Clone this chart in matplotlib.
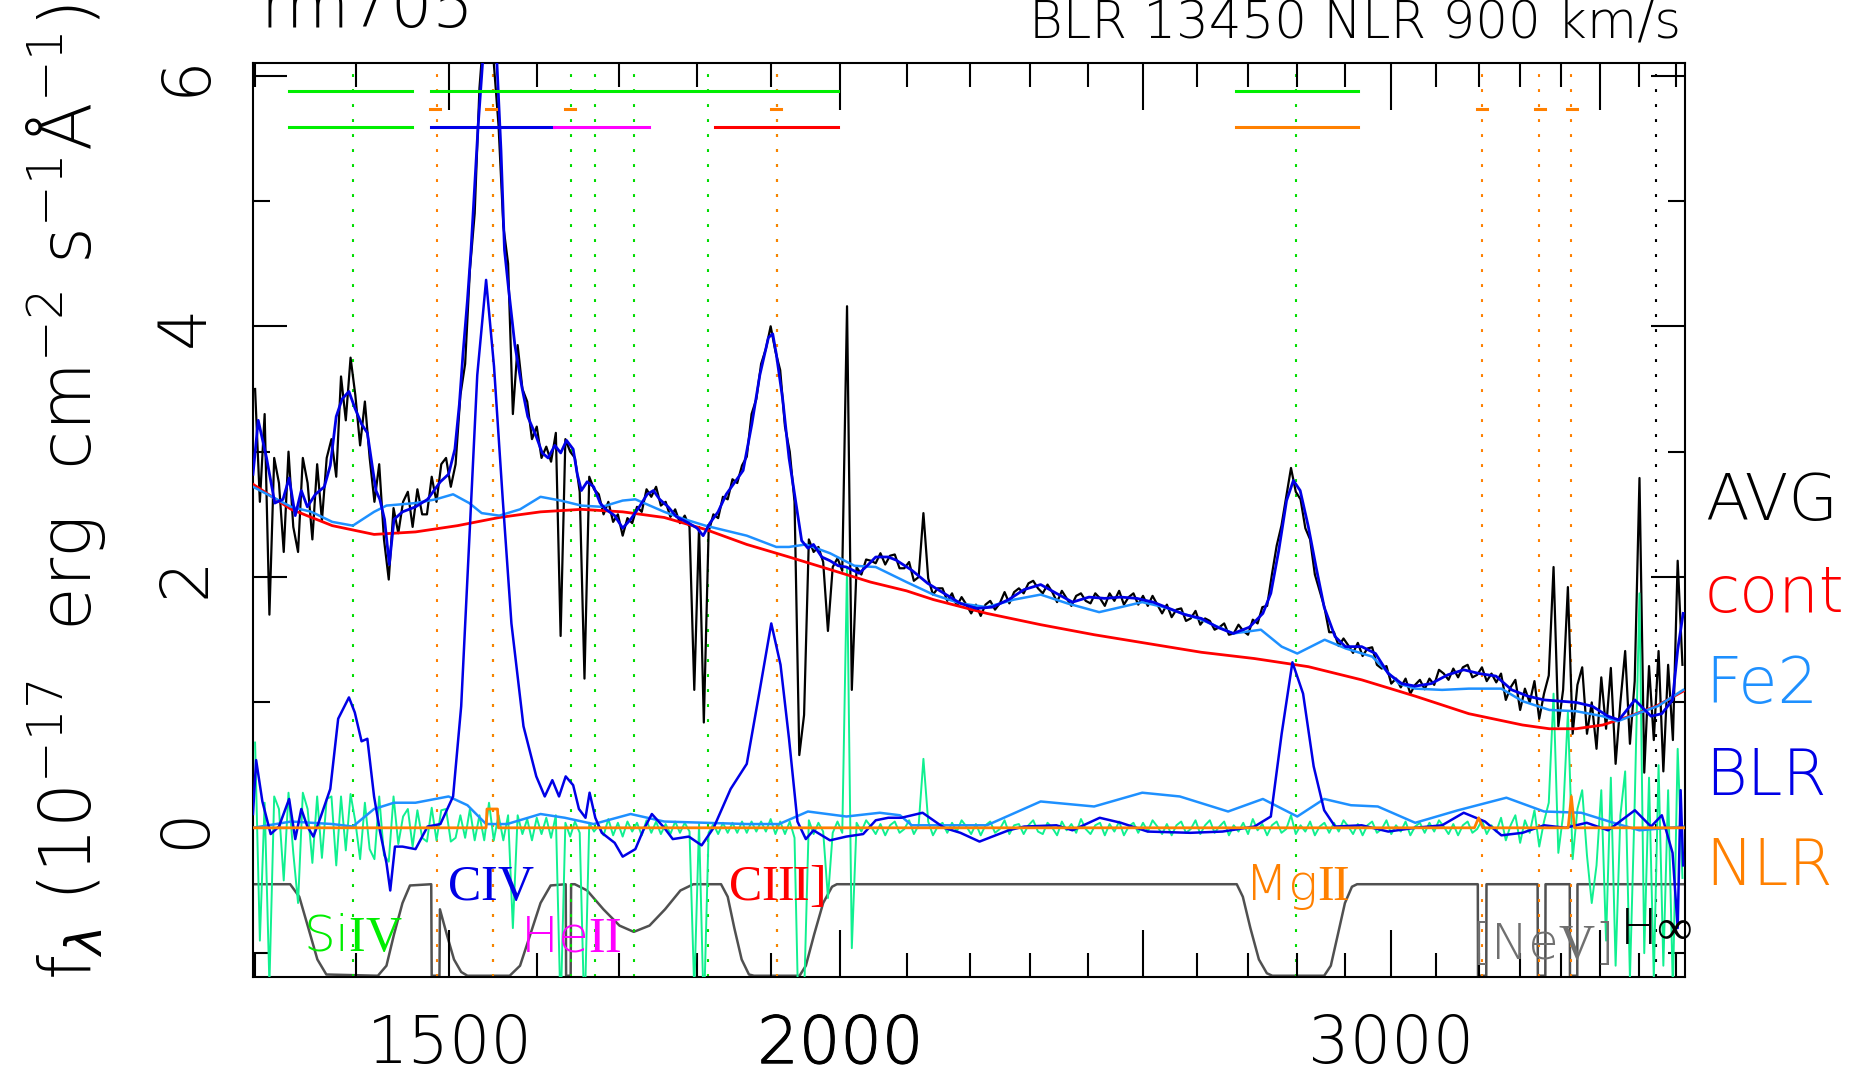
import numpy as np
import matplotlib
matplotlib.use("Agg")
from matplotlib import pyplot
from matplotlib import patheffects
from matplotlib.ticker import FixedLocator, FixedFormatter, NullFormatter

# ---- observed spectrum (AVG), one value per pixel of a log-lambda grid 1300..3718 A
spec_flux = [
    3.5, 2.6, 3.3, 1.7, 2.95, 2.75, 2.2, 3.0, 2.4, 2.2,
    2.95, 2.75, 2.3, 2.9, 2.45, 2.95, 3.1, 2.8, 3.6, 3.25,
    3.75, 3.45, 3.05, 3.4, 2.95, 2.6, 2.9, 2.3, 1.98, 2.55,
    2.35, 2.6, 2.68, 2.4, 2.7, 2.5, 2.5, 2.8, 2.6, 2.9,
    2.95, 2.72, 2.9, 3.45, 3.7, 4.45, 4.9, 5.9, 6.4, 6.8,
    6.1, 5.6, 4.8, 4.5, 3.3, 3.85, 3.5, 3.4, 3.1, 3.2,
    2.95, 3.04, 2.92, 3.15, 1.53, 3.1, 3.0, 2.95, 2.68, 1.19,
    2.8, 2.7, 2.66, 2.5, 2.6, 2.44, 2.5, 2.33, 2.47, 2.43,
    2.56, 2.52, 2.7, 2.64, 2.72, 2.57, 2.6, 2.48, 2.54, 2.43,
    2.49, 2.4, 1.1, 2.4, 0.84, 2.36, 2.5, 2.47, 2.64, 2.62,
    2.78, 2.75, 2.89, 2.96, 3.3, 3.42, 3.7, 3.82, 4.0, 3.8,
    3.65, 3.2, 3.0, 2.6, 0.58, 0.9, 2.3, 2.2, 2.24, 2.12,
    1.57, 2.08, 2.15, 2.05, 4.16, 1.1, 2.08, 2.02, 2.14, 2.13,
    2.11, 2.19, 2.10, 2.17, 2.18, 2.07, 2.07, 2.12, 1.97, 2.0,
    2.51, 1.99, 1.86, 1.91, 1.91, 1.81, 1.87, 1.77, 1.84, 1.78,
    1.71, 1.78, 1.69, 1.78, 1.81, 1.74, 1.79, 1.88, 1.79, 1.88,
    1.91, 1.87, 1.95, 1.97, 1.91, 1.87, 1.94, 1.88, 1.80, 1.89,
    1.83, 1.77, 1.85, 1.87, 1.81, 1.79, 1.87, 1.83, 1.77, 1.87,
    1.81, 1.89, 1.78, 1.84, 1.87, 1.78, 1.85, 1.77, 1.85, 1.78,
    1.71, 1.78, 1.68, 1.74, 1.75, 1.65, 1.67, 1.73, 1.62, 1.67,
    1.65, 1.58, 1.60, 1.63, 1.54, 1.55, 1.62, 1.57, 1.54, 1.66,
    1.63, 1.76, 1.77, 2.02, 2.25, 2.41, 2.64, 2.87, 2.68, 2.62,
    2.39, 2.3, 2.02, 1.89, 1.76, 1.56, 1.56, 1.45, 1.51, 1.455,
    1.395, 1.475, 1.37, 1.43, 1.44, 1.30, 1.27, 1.29, 1.15, 1.19,
    1.12, 1.19, 1.07, 1.14, 1.18, 1.105, 1.19, 1.14, 1.26, 1.23,
    1.18, 1.27, 1.20, 1.28, 1.30, 1.20, 1.22, 1.28, 1.17, 1.23,
    1.16, 1.23, 1.02, 1.12, 1.18, 0.94, 1.11, 1.0, 1.17, 0.87,
    1.07, 1.215, 2.08, 0.81, 1.1, 1.92, 0.75, 1.14, 1.28, 0.75,
    1.0, 0.63, 1.2, 0.79, 1.275, 0.51, 1.0, 1.41, 0.67, 1.17,
    2.79, 0.44, 1.29, 0.7, 1.41, 0.45, 1.3, 0.7, 2.13, 1.3,
]

# ---- fit residuals on the same pixel grid
resid_flux = [
    0.68, -0.9, 0.2, -1.25, 0.25, 0.15, -0.42, 0.28, -0.2, -0.6,
    0.28, 0.15, -0.28, 0.25, -0.24, 0.23, 0.25, -0.3, 0.25, -0.18,
    0.27, 0.05, -0.25, 0.2, -0.17, -0.25, 0.25, -0.22, -0.27, 0.25,
    -0.13, 0.09, 0.15, -0.15, 0.14, -0.08, -0.11, 0.16, -0.1, 0.14,
    0.15, -0.11, -0.08, 0.1, -0.08, 0.15, -0.1, 0.1, -0.1, 0.2,
    -0.1, 0.1, -0.1, 0.1, -0.8, 0.1, -0.05, 0.07, -0.1, 0.08,
    -0.05, 0.08, -0.08, 0.1, -1.47, 0.04, -0.07, 0.05, -0.04, -1.53,
    0.04, -0.03, 0.02, -0.06, 0.07, -0.06, 0.04, -0.07, 0.05, -0.03,
    0.04, -0.06, 0.06, -0.04, 0.05, -0.05, 0.03, -0.05, 0.05, -0.04,
    0.04, -0.03, -1.3, 0.03, -1.5, -0.04, 0.03, -0.05, 0.04, -0.04,
    0.04, -0.04, 0.05, -0.04, 0.05, -0.03, 0.05, -0.03, 0.07, -0.05,
    0.05, -0.05, 0.05, -0.08, -1.82, -1.35, 0.06, -0.05, 0.04, -0.03,
    -0.56, -0.04, 0.05, -0.04, 2.08, -0.96, 0.04, -0.03, 0.06, 0.01,
    -0.05, 0.03, -0.06, 0.02, 0.05, -0.04, -0.01, 0.06, -0.05, 0.02,
    0.55, 0.05, -0.06, 0.01, 0.04, -0.04, 0.04, -0.03, 0.06, 0.01,
    -0.05, 0.03, -0.06, 0.02, 0.05, -0.04, -0.01, 0.06, -0.05, 0.02,
    0.03, -0.05, 0.02, 0.06, -0.03, -0.05, 0.04, 0.0, -0.06, 0.05,
    -0.02, 0.03, -0.04, 0.07, -0.01, -0.05, 0.02, 0.04, -0.06, 0.03,
    -0.03, 0.05, -0.06, 0.01, 0.04, -0.04, 0.04, -0.03, 0.06, 0.01,
    -0.05, 0.03, -0.06, 0.02, 0.05, -0.04, -0.01, 0.06, -0.05, 0.02,
    0.06, -0.04, 0.01, 0.05, -0.06, 0.02, -0.03, 0.04, -0.05, 0.07,
    -0.02, 0.03, -0.06, 0.02, 0.05, -0.04, -0.01, 0.1, -0.05, 0.02,
    -0.03, 0.05, -0.06, 0.01, 0.04, -0.04, 0.04, -0.03, 0.06, 0.01,
    -0.05, 0.03, -0.06, 0.02, 0.05, -0.04, -0.01, 0.06, -0.05, 0.02,
    -0.03, 0.05, -0.06, 0.01, 0.04, -0.04, 0.04, -0.03, 0.06, 0.01,
    -0.05, 0.03, -0.06, 0.02, 0.05, -0.04, -0.01, 0.06, -0.05, 0.02,
    -0.03, 0.08, -0.1, 0.02, 0.1, -0.12, 0.06, -0.04, 0.14, -0.15,
    0.05, 0.2, 1.07, -0.2, 0.1, 0.92, -0.25, 0.15, 0.3, -0.22,
    -0.6, -0.3, 0.3, -0.9, 0.4, -1.1, 0.1, 0.45, -1.2, 0.2,
    1.87, -1.0, 0.4, -1.2, 0.5, -1.1, 0.3, -1.3, 0.63, -0.4,
]

# ---- total model
model_wave = [
    1298, 1303, 1311, 1319, 1327, 1333, 1339, 1345, 1351, 1359,
    1368, 1374, 1380, 1386, 1393, 1399, 1406, 1412, 1417, 1421,
    1425, 1430, 1435, 1440, 1449, 1463, 1476, 1490, 1499, 1506,
    1511, 1515, 1520, 1524, 1532, 1540, 1546, 1552, 1558, 1562,
    1567, 1574, 1582, 1589, 1599, 1606, 1613, 1621, 1628, 1635,
    1643, 1648, 1653, 1660, 1668, 1676, 1683, 1694, 1704, 1714,
    1725, 1735, 1743, 1751, 1762, 1773, 1789, 1800, 1808, 1817,
    1828, 1839, 1851, 1862, 1874, 1885, 1897, 1903, 1908, 1917,
    1926, 1935, 1944, 1953, 1961, 1973, 1985, 1997, 2009, 2028,
    2040, 2053, 2072, 2084, 2108, 2133, 2159, 2185, 2211, 2237,
    2264, 2290, 2318, 2345, 2373, 2402, 2430, 2459, 2488, 2518,
    2548, 2578, 2609, 2640, 2671, 2703, 2730, 2746, 2762, 2778,
    2792, 2806, 2823, 2839, 2856, 2879, 2901, 2936, 2966, 2994,
    3024, 3054, 3090, 3128, 3165, 3202, 3241, 3279, 3318, 3358,
    3397, 3438, 3479, 3520, 3548, 3590, 3633, 3662, 3691, 3705,
    3720,
]
model_flux = [
    2.82, 3.25, 2.95, 2.59, 2.62, 2.79, 2.49, 2.69, 2.56, 2.66,
    2.72, 2.89, 3.28, 3.42, 3.48, 3.35, 3.22, 3.15, 2.89, 2.69,
    2.62, 2.46, 2.10, 2.46, 2.52, 2.56, 2.62, 2.76, 2.82, 3.02,
    3.38, 3.78, 4.21, 4.61, 5.60, 6.40, 6.60, 6.30, 5.40, 4.61,
    4.28, 3.85, 3.52, 3.28, 3.12, 2.99, 2.95, 3.05, 2.99, 3.09,
    3.02, 2.82, 2.69, 2.76, 2.72, 2.59, 2.54, 2.49, 2.39, 2.46,
    2.56, 2.66, 2.69, 2.62, 2.56, 2.48, 2.43, 2.39, 2.33, 2.43,
    2.52, 2.66, 2.76, 2.85, 3.22, 3.61, 3.91, 3.94, 3.78, 3.42,
    2.95, 2.62, 2.29, 2.23, 2.26, 2.16, 2.13, 2.09, 2.08, 2.03,
    2.09, 2.16, 2.16, 2.135, 2.055, 1.95, 1.87, 1.79, 1.75, 1.76,
    1.82, 1.90, 1.94, 1.87, 1.80, 1.84, 1.83, 1.84, 1.83, 1.80,
    1.75, 1.70, 1.67, 1.60, 1.55, 1.60, 1.71, 1.87, 2.21, 2.61,
    2.77, 2.69, 2.40, 2.08, 1.76, 1.525, 1.445, 1.445, 1.39, 1.23,
    1.15, 1.13, 1.15, 1.22, 1.26, 1.23, 1.21, 1.10, 1.05, 1.02,
    1.01, 1.00, 0.97, 0.89, 0.86, 1.02, 0.89, 0.91, 1.02, 1.42,
    1.71,
]

# ---- continuum
cont_wave = [1298, 1335, 1376, 1419, 1463, 1509, 1556, 1604, 1653, 1704,
             1757, 1811, 1867, 1926, 1985, 2045, 2100, 2142, 2228, 2318,
             2411, 2508, 2609, 2713, 2823, 2936, 3054, 3177, 3305, 3371,
             3438, 3506, 3576, 3647, 3720]
cont_flux = [2.74, 2.54, 2.41, 2.34, 2.36, 2.41, 2.475, 2.52, 2.54, 2.52,
             2.475, 2.38, 2.26, 2.16, 2.06, 1.96, 1.89, 1.82, 1.71, 1.62,
             1.54, 1.47, 1.40, 1.35, 1.285, 1.18, 1.05, 0.91, 0.82, 0.79,
             0.79, 0.82, 0.89, 0.97, 1.09]

# ---- continuum + FeII
fe2c_wave = [1298, 1335, 1355, 1376, 1397, 1419, 1432, 1463, 1485, 1504,
             1522, 1536, 1556, 1580, 1604, 1628, 1653, 1678, 1704, 1720,
             1757, 1784, 1811, 1867, 1908, 1926, 1950, 1985, 2021, 2053,
             2100, 2142, 2185, 2228, 2273, 2318, 2364, 2420, 2459, 2498,
             2538, 2609, 2671, 2726, 2768, 2800, 2857, 2902, 2959, 3018,
             3054, 3115, 3177, 3254, 3305, 3371, 3438, 3506, 3545, 3596,
             3651, 3720]
fe2c_flux = [2.72, 2.56, 2.52, 2.44, 2.41, 2.52, 2.57, 2.59, 2.62, 2.66,
             2.59, 2.51, 2.49, 2.54, 2.64, 2.61, 2.57, 2.56, 2.61, 2.62,
             2.52, 2.46, 2.41, 2.33, 2.24, 2.24, 2.26, 2.19, 2.09, 2.08,
             1.96, 1.86, 1.79, 1.76, 1.82, 1.86, 1.79, 1.72, 1.76, 1.80,
             1.76, 1.66, 1.55, 1.58, 1.445, 1.39, 1.50, 1.43, 1.365, 1.15,
             1.11, 1.10, 1.11, 1.11, 1.01, 0.94, 0.93, 0.89, 0.85, 0.91,
             0.97, 1.10]

# ---- FeII alone
fe2_wave = [1298, 1335, 1376, 1397, 1419, 1440, 1463, 1499, 1520, 1541,
            1565, 1604, 1633, 1668, 1714, 1757, 1811, 1867, 1912, 1953,
            2009, 2059, 2090, 2108, 2228, 2318, 2411, 2498, 2568, 2661,
            2730, 2800, 2856, 2913, 2971, 3054, 3152, 3266, 3358, 3451,
            3534, 3602, 3720]
fe2_flux = [0.0, 0.05, 0.03, 0.01, 0.15, 0.20, 0.20, 0.25, 0.18, 0.03,
            0.03, 0.11, 0.08, 0.03, 0.11, 0.05, 0.04, 0.03, 0.03, 0.13,
            0.09, 0.12, 0.10, 0.02, 0.02, 0.21, 0.17, 0.28, 0.25, 0.13,
            0.23, 0.09, 0.23, 0.18, 0.17, 0.04, 0.14, 0.24, 0.13, 0.12,
            0.04, -0.02, 0.01]

# ---- broad line component
blr_wave = [1298, 1301, 1307, 1315, 1323, 1333, 1339, 1345, 1351, 1357,
            1364, 1374, 1382, 1393, 1399, 1406, 1412, 1419, 1425, 1432,
            1436, 1441, 1449, 1463, 1476, 1490, 1504, 1513, 1522, 1531,
            1541, 1550, 1560, 1570, 1584, 1599, 1609, 1618, 1626, 1634,
            1643, 1650, 1658, 1663, 1670, 1678, 1694, 1704, 1720, 1730,
            1741, 1757, 1768, 1789, 1806, 1822, 1845, 1867, 1885, 1901,
            1914, 1926, 1938, 1950, 1961, 1985, 2009, 2034, 2053, 2072,
            2092, 2125, 2159, 2185, 2216, 2237, 2264, 2290, 2345, 2373,
            2421, 2459, 2508, 2588, 2650, 2713, 2746, 2768, 2790, 2812,
            2834, 2856, 2879, 2936, 2994, 3054, 3115, 3165, 3215, 3254,
            3305, 3358, 3411, 3465, 3520, 3590, 3633, 3662, 3691, 3705,
            3713, 3720]
blr_flux = [0.11, 0.54, 0.21, -0.05, 0.01, 0.23, -0.09, 0.15, 0.01, -0.07,
            0.08, 0.31, 0.87, 1.04, 0.92, 0.69, 0.71, 0.25, -0.02, -0.28,
            -0.50, -0.15, -0.15, -0.17, 0.01, 0.03, 0.25, 0.97, 2.29, 3.61,
            4.37, 3.68, 2.62, 1.63, 0.81, 0.41, 0.25, 0.38, 0.25, 0.41,
            0.34, 0.15, 0.08, 0.28, 0.08, -0.04, -0.12, -0.23, -0.17, -0.02,
            0.11, 0.0, -0.09, -0.07, -0.14, 0.0, 0.31, 0.51, 1.10, 1.63,
            1.30, 0.71, 0.05, -0.09, -0.02, -0.10, -0.07, -0.05, 0.06, 0.08,
            0.08, 0.12, 0.0, -0.04, -0.11, -0.07, -0.02, 0.01, 0.02, -0.02,
            0.08, 0.04, -0.03, -0.04, -0.03, 0.01, 0.09, 0.75, 1.32, 1.07,
            0.49, 0.14, 0.01, 0.02, -0.03, 0.0, 0.02, 0.12, 0.05, -0.06,
            -0.04, 0.02, 0.0, 0.04, -0.02, 0.14, 0.01, 0.10, -0.20, -0.8,
            0.3, -0.3]

# ---- narrow line component
nlr_wave = [1298, 1541, 1542, 1554, 1555, 3190, 3200, 3210, 3418, 3426, 3434, 3725]
nlr_flux = [0.0, 0.0, 0.15, 0.15, 0.0, 0.0, 0.08, 0.0, 0.0, 0.25, 0.0, 0.0]

# ---- fitting-window mask (drawn along the bottom)
mask_wave = [1298, 1334, 1343, 1352, 1361, 1370, 1423, 1432, 1440, 1449,
             1457, 1480, 1480.5, 1489, 1489.5, 1497, 1505, 1513, 1520, 1568,
             1580, 1592, 1604, 1616, 1634, 1634.5, 1640, 1640.5, 1645, 1660,
             1680, 1700, 1718, 1738, 1758, 1778, 1795, 1832, 1841, 1850,
             1860, 1870, 1877, 1941, 1950, 1962, 1975, 1988, 1995, 2678,
             2690, 2705, 2722, 2738, 2749, 2856, 2870, 2885, 2900, 2915,
             2926, 3198, 3198.5, 3218, 3218.5, 3342, 3342.5, 3361, 3361.5, 3422,
             3422.5, 3441, 3441.5, 3725]
mask_level = [-0.45, -0.45, -0.55, -0.8, -1.05, -1.17, -1.18, -1.1, -0.85, -0.6,
              -0.46, -0.45, -1.18, -1.18, -0.65, -0.85, -1.05, -1.15, -1.18, -1.18,
              -1.1, -0.85, -0.6, -0.46, -0.45, -1.18, -1.18, -0.45, -0.45, -0.5,
              -0.65, -0.78, -0.83, -0.78, -0.65, -0.5, -0.45, -0.45, -0.55, -0.8,
              -1.05, -1.17, -1.18, -1.18, -1.1, -0.85, -0.6, -0.47, -0.45, -0.45,
              -0.55, -0.8, -1.05, -1.16, -1.18, -1.18, -1.1, -0.85, -0.6, -0.47,
              -0.45, -0.45, -1.18, -1.18, -0.45, -0.45, -1.18, -1.18, -0.45, -0.45,
              -1.18, -1.18, -0.45, -0.45]

# ---- line windows shown as bars at the top (two rows)
win_lo = [1333, 1480, 2677, 1333, 1480, 1620, 1824, 2677]
win_hi = [1459, 1997, 2928, 1459, 1620, 1737, 1997, 2928]
win_row = [0, 0, 0, 1, 1, 1, 1, 1]
win_color = ['#00ee00', '#00ee00', '#00ee00', '#00ee00', '#0000e6', '#ff00ff', '#ff0000', '#ff8000']
narrow_centers = [1484, 1547, 1639, 1908, 3207, 3349, 3428]

# ---- line positions
broad_lines = [1397, 1549, 1640, 1670, 1718, 1814, 1909, 2798]
narrow_lines = [1486, 1549, 1909, 3207, 3346, 3426]
balmer_limit = 3646

line_labels = [r'$\mathsf{Si}\mathrm{IV}$', r'$\mathrm{CIV}$', r'$\mathsf{He}\mathrm{II}$',
               r'$\mathrm{CIII]}$', r'$\mathsf{Mg}\mathrm{II}$',
               r'$\mathsf{[Ne}\mathrm{V}\mathsf{]}$', r'$\mathsf{H}\infty$']
label_wave = [1397, 1546, 1640, 1908, 2800, 3349, 3646]
label_y = [-0.986, -0.574, -0.986, -0.574, -0.574, -1.05, -0.93]
label_color = ['#00ee00', '#0000e6', '#ff00ff', '#ff0000', '#ff8000', '#707070', 'black']

xmajor = [1500, 2000, 2500, 3000, 3500]
xmajor_labels = ['1500', '2000', '', '3000', '']
xminor = [1300, 1400, 1600, 1700, 1800, 1900, 2100, 2200, 2300, 2400,
          2600, 2700, 2800, 2900, 3100, 3200, 3300, 3400, 3600, 3700]
ymajor = [0, 2, 4, 6]
yminor = [-1, 1, 3, 5]

legend_names = ['AVG', 'cont', 'Fe2', 'BLR', 'NLR']
legend_colors = ['black', '#ff0000', '#1e90ff', '#0000e6', '#ff8000']

pyplot.rcParams['font.family'] = ['DejaVu Sans']
pyplot.rcParams['font.weight'] = 'light'
# serif roman numerals, thin sans element names (only used by the line labels)
pyplot.rcParams['mathtext.rm'] = 'Liberation Serif'
pyplot.rcParams['mathtext.sf'] = 'DejaVu Sans:weight=light'

W, H = 1863, 1075
fig = pyplot.figure(figsize=(W / 100, H / 100), dpi=100)
ax = fig.add_axes([253 / W, 1 - 977 / H, 1432 / W, 914 / H])
ax.set_xscale('log')
ax.set_xlim(1298, 3725)
ax.set_ylim(-1.19, 6.10)

spec_wave = np.geomspace(1300, 3718, len(spec_flux))

ax.plot(mask_wave, mask_level, color='#505050', lw=1.8, zorder=1)
for w in broad_lines:
    ax.axvline(w, color='#00dd00', lw=1.5, dashes=(1.4, 5.8), zorder=1)
for w in narrow_lines:
    ax.axvline(w, color='#ff8000', lw=1.5, dashes=(1.4, 5.8), zorder=1)
ax.axvline(balmer_limit, color='black', lw=1.5, dashes=(1.4, 5.8), zorder=1)

ax.plot(spec_wave, spec_flux, color='black', lw=1.6, zorder=2)
ax.plot(spec_wave, resid_flux, color='#10f090', lw=1.4, zorder=3)
ax.plot(cont_wave, cont_flux, color='#ff0000', lw=2, zorder=4)
ax.plot(fe2c_wave, fe2c_flux, color='#1e90ff', lw=1.8, zorder=4)
ax.plot(fe2_wave, fe2_flux, color='#1e90ff', lw=1.8, zorder=4)
ax.plot(model_wave, model_flux, color='#0000e6', lw=2, zorder=5)
ax.plot(blr_wave, blr_flux, color='#0000e6', lw=1.8, zorder=5)
ax.plot(nlr_wave, nlr_flux, color='#ff8000', lw=2, zorder=6)

row_y = [5.875, 5.588]
for lo, hi, r, c in zip(win_lo, win_hi, win_row, win_color):
    ax.plot([lo, hi], [row_y[r], row_y[r]], color=c, lw=2.2, zorder=6)
for c in narrow_centers:
    ax.plot([c * 0.9963, c * 1.0037], [5.735, 5.735], color='#ff8000', lw=2.2, zorder=6)

for s, w, y, c in zip(line_labels, label_wave, label_y, label_color):
    ax.text(w, y, s, color=c, fontsize=36, ha='center', va='baseline',
            math_fontfamily='custom', clip_on=False, zorder=7)

ax.xaxis.set_major_locator(FixedLocator(xmajor))
ax.xaxis.set_major_formatter(FixedFormatter(xmajor_labels))
ax.xaxis.set_minor_locator(FixedLocator(xminor))
ax.xaxis.set_minor_formatter(NullFormatter())
ax.yaxis.set_major_locator(FixedLocator(ymajor))
ax.yaxis.set_minor_locator(FixedLocator(yminor))

ax.tick_params(which='both', direction='in', top=True, right=True, width=1.5, colors='black')
ax.tick_params(axis='x', which='major', length=34, labelsize=47, pad=26)
ax.tick_params(axis='x', which='minor', length=17)
ax.tick_params(axis='y', which='major', length=24.5, labelsize=47, pad=25, labelrotation=90)
ax.tick_params(axis='y', which='minor', length=12)
for lab in ax.get_yticklabels():
    lab.set_va('center')
ax.get_xticklabels()[1].set_path_effects([patheffects.withStroke(linewidth=0.8, foreground='black')])
for sp in ax.spines.values():
    sp.set_linewidth(1.5)

fig.text(66 / W, 1 - 980 / H,
         r'f$_\lambda$ (10$^{-17}$  erg  cm$^{-2}$ s$^{-1}$Å$^{-1}$)',
         rotation=90, fontsize=51, ha='center', va='bottom')
fig.text(261 / W, 1 - 27 / H, 'rm705', fontsize=47, ha='left', va='baseline')
fig.text(1681 / W, 1 - 38 / H, 'BLR 13450 NLR 900 km/s', fontsize=37, ha='right', va='baseline')

legend_base = [520, 612, 703, 795, 885]
for name, col, yb in zip(legend_names, legend_colors, legend_base):
    fig.text(1705 / W, 1 - yb / H, name, color=col, fontsize=46, ha='left', va='baseline')

fig.savefig('out.png', dpi=100)
